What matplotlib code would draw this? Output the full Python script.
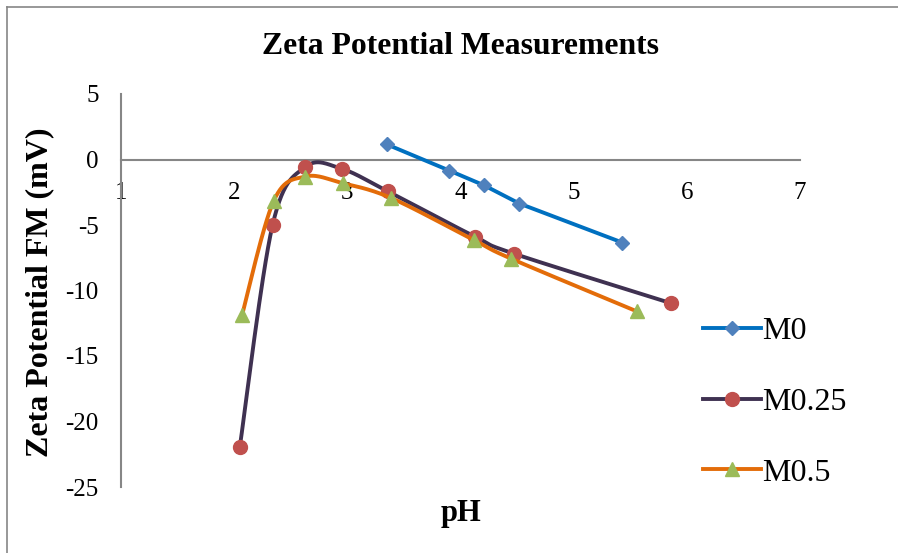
import numpy as np
import matplotlib.pyplot as plt
from matplotlib.lines import Line2D

plt.rcParams['font.family'] = ['Liberation Serif', 'DejaVu Serif']
plt.rcParams['axes.unicode_minus'] = False

# values
ph_m0 = [3.35, 3.90, 4.21, 4.52, 5.43]
zeta_m0 = [1.15, -0.84, -1.98, -3.36, -6.34]

ph_m025 = [2.05, 2.34, 2.63, 2.95, 3.36, 4.13, 4.47, 5.86]
zeta_m025 = [-21.93, -4.98, -0.56, -0.71, -2.44, -5.90, -7.18, -10.97]

ph_m05 = [2.07, 2.35, 2.63, 2.96, 3.39, 4.12, 4.45, 5.56]
zeta_m05 = [-11.86, -3.15, -1.30, -1.81, -2.95, -6.16, -7.58, -11.60]

x_ticks = [1, 2, 3, 4, 5, 6, 7]
y_ticks = [-25, -20, -15, -10, -5, 0, 5]


def smooth(ax, xs, ys, n=30):
    # Excel style smoothed line: catmull-rom bezier in screen space
    pts = ax.transData.transform(np.column_stack([xs, ys]))
    out = []
    for i in range(len(pts) - 1):
        p0 = pts[max(i - 1, 0)]
        p1 = pts[i]
        p2 = pts[i + 1]
        p3 = pts[min(i + 2, len(pts) - 1)]
        c1 = p1 + (p2 - p0) / 6
        c2 = p2 - (p3 - p1) / 6
        t = np.linspace(0, 1, n, endpoint=False)[:, None]
        seg = ((1 - t) ** 3) * p1 + 3 * ((1 - t) ** 2) * t * c1 + 3 * (1 - t) * t ** 2 * c2 + t ** 3 * p2
        out.append(seg)
    out.append(pts[-1:])
    out = np.vstack(out)
    data = ax.transData.inverted().transform(out)
    marks = list(range(0, n * (len(pts) - 1) + 1, n))
    return data[:, 0], data[:, 1], marks


fig = plt.figure(figsize=(8.98, 5.53), dpi=100)
ax = fig.add_axes([121 / 898, 1 - 487 / 553, 679 / 898, 393 / 553])
ax.set_xlim(1, 7)
ax.set_ylim(-25, 5)

gray = '#868686'
for s in ['top', 'right']:
    ax.spines[s].set_visible(False)
ax.spines['bottom'].set_position(('data', 0))
for s in ['left', 'bottom']:
    ax.spines[s].set_color(gray)
    ax.spines[s].set_linewidth(1.5)

ax.set_xticks(x_ticks)
ax.set_yticks(y_ticks)
ax.tick_params(axis='both', length=0, labelsize=18)
ax.tick_params(axis='x', pad=16)
ax.tick_params(axis='y', pad=16)

lw = 2.8
ax.plot(ph_m0, zeta_m0, color='#0070C0', lw=lw, marker='D', ms=7,
        mfc='#4F81BD', mec='#4F81BD', label='M0', zorder=3)

sx, sy, mk = smooth(ax, ph_m025, zeta_m025)
ax.plot(sx, sy, color='#3F3151', lw=lw, marker='o', ms=10, markevery=mk,
        mfc='#C0504D', mec='#C0504D', label='M0.25', zorder=3)

sx, sy, mk = smooth(ax, ph_m05, zeta_m05)
ax.plot(sx, sy, color='#E36C09', lw=lw, marker='^', ms=10, markevery=mk,
        mfc='#9BBB59', mec='#9BBB59', label='M0.5', zorder=3)

ax.legend(loc='center left', bbox_to_anchor=(703 / 898, 1 - 402 / 553),
          bbox_transform=fig.transFigure, frameon=False, fontsize=23,
          handlelength=1.8, handletextpad=0.06, labelspacing=1.3,
          borderpad=0, borderaxespad=0)

fig.text(460 / 898, 1 - 46 / 553, 'Zeta Potential Measurements', ha='center',
         va='center', fontsize=22.8, fontweight='bold')
fig.text(40 / 898, 1 - 292 / 553, 'Zeta Potential FM (mV)', ha='center',
         va='center', rotation=90, fontsize=23, fontweight='bold')
fig.text(461 / 898, 1 - 514 / 553, 'pH', ha='center', va='center',
         fontsize=22, fontweight='bold')

# outer chart frame (only top and left edges show in the crop)
fig.add_artist(Line2D([7 / 898, 1], [1 - 7 / 553, 1 - 7 / 553], color=gray, lw=1.2))
fig.add_artist(Line2D([7 / 898, 7 / 898], [0, 1 - 7 / 553], color=gray, lw=1.2))

fig.savefig('out.png', dpi=100)
